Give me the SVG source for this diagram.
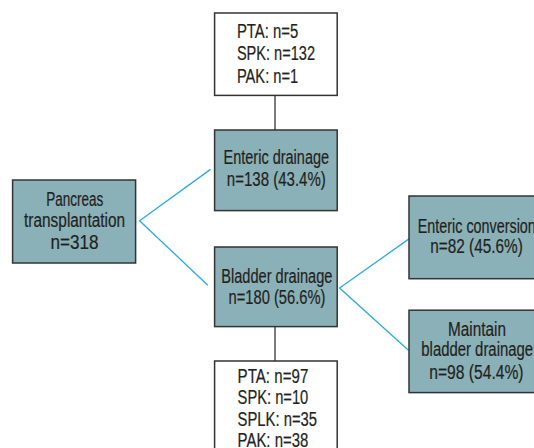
<svg xmlns="http://www.w3.org/2000/svg" width="534" height="448" viewBox="0 0 534 448">
<style>
.box{fill:#8ab1b7;stroke:#333;stroke-width:1.5}
.wbox{fill:#fff;stroke:#333;stroke-width:1.5}
.t{font-family:"Liberation Sans",Arial,sans-serif;font-size:19.5px;fill:#231f20;stroke:#231f20;stroke-width:0.2}
.c{text-anchor:middle}
.blue{stroke:#29abe2;stroke-width:1.3;fill:none}
.dark{stroke:#333;stroke-width:1.3;fill:none}
</style>
<rect width="534" height="448" fill="#fff"/>
<g id="connectors">
<line class="dark" x1="275" y1="95" x2="275" y2="130"/>
<line class="dark" x1="275" y1="327" x2="275" y2="361"/>
<polyline class="blue" points="210.5,169.4 139.6,220.8 207.8,285.2"/>
<polyline class="blue" points="410.4,237.9 339.6,288 408.7,350.4"/>
</g>
<g id="top-box">
<rect class="wbox" x="214.6" y="13" width="122.6" height="82.4"/>
<text class="t" x="236.9" y="37.8" textLength="61.3" lengthAdjust="spacingAndGlyphs">PTA: n=5</text>
<text class="t" x="236.9" y="60.3" textLength="78.1" lengthAdjust="spacingAndGlyphs">SPK: n=132</text>
<text class="t" x="236.9" y="82.8" textLength="61.3" lengthAdjust="spacingAndGlyphs">PAK: n=1</text>
</g>
<g id="enteric-drainage">
<rect class="box" x="214.6" y="130" width="122.6" height="80.6"/>
<text class="t c" x="276.3" y="164.3" textLength="105.6" lengthAdjust="spacingAndGlyphs">Enteric drainage</text>
<text class="t c" x="276.3" y="185.8" textLength="99" lengthAdjust="spacingAndGlyphs">n=138 (43.4%)</text>
</g>
<g id="pancreas">
<rect class="box" x="12.6" y="180" width="123" height="83"/>
<text class="t c" x="74.8" y="206.2" textLength="57.2" lengthAdjust="spacingAndGlyphs">Pancreas</text>
<text class="t c" x="74.6" y="226.6" textLength="101" lengthAdjust="spacingAndGlyphs">transplantation</text>
<text class="t c" x="74.6" y="248.8" textLength="48.1" lengthAdjust="spacingAndGlyphs">n=318</text>
</g>
<g id="bladder-drainage">
<rect class="box" x="214.6" y="247" width="122.6" height="79.6"/>
<text class="t c" x="276.8" y="282.8" textLength="111.2" lengthAdjust="spacingAndGlyphs">Bladder drainage</text>
<text class="t c" x="277" y="304" textLength="97" lengthAdjust="spacingAndGlyphs">n=180 (56.6%)</text>
</g>
<g id="bottom-box">
<rect class="wbox" x="214.6" y="361" width="122.6" height="100"/>
<text class="t" x="237.6" y="382.8" textLength="70.7" lengthAdjust="spacingAndGlyphs">PTA: n=97</text>
<text class="t" x="237.6" y="403.9" textLength="70.7" lengthAdjust="spacingAndGlyphs">SPK: n=10</text>
<text class="t" x="237.6" y="425.6" textLength="79.5" lengthAdjust="spacingAndGlyphs">SPLK: n=35</text>
<text class="t" x="237.6" y="446.8" textLength="70.7" lengthAdjust="spacingAndGlyphs">PAK: n=38</text>
</g>
<g id="enteric-conversion">
<rect class="box" x="409" y="196" width="134" height="82.7"/>
<text class="t" x="417.8" y="233.4" textLength="118" lengthAdjust="spacingAndGlyphs">Enteric conversion</text>
<text class="t c" x="476.5" y="252.9" textLength="92.6" lengthAdjust="spacingAndGlyphs">n=82 (45.6%)</text>
</g>
<g id="maintain-bladder">
<rect class="box" x="409" y="310.2" width="134" height="82.4"/>
<text class="t c" x="477" y="335.8" textLength="57.9" lengthAdjust="spacingAndGlyphs">Maintain</text>
<text class="t c" x="477.2" y="356.2" textLength="111.8" lengthAdjust="spacingAndGlyphs">bladder drainage</text>
<text class="t c" x="476.4" y="379" textLength="94.3" lengthAdjust="spacingAndGlyphs">n=98 (54.4%)</text>
</g>
</svg>
